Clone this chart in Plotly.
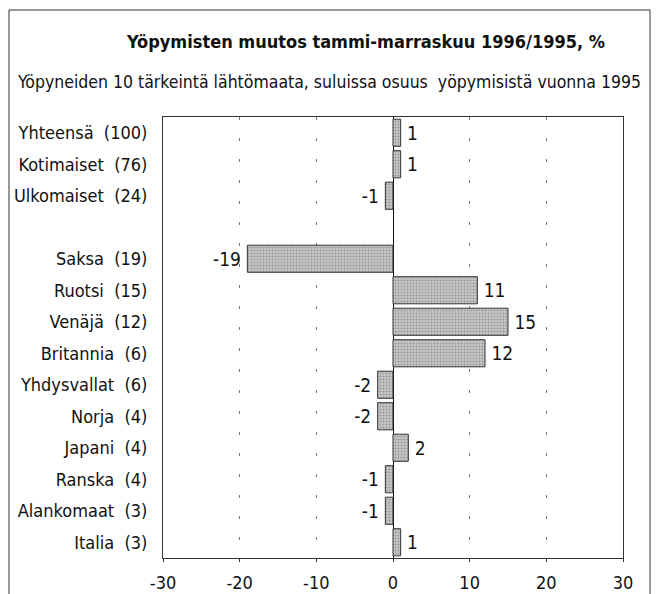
import plotly.graph_objects as go

# ---- data ----
names = ["Yhteensä", "Kotimaiset", "Ulkomaiset", "",
         "Saksa", "Ruotsi", "Venäjä", "Britannia", "Yhdysvallat",
         "Norja", "Japani", "Ranska", "Alankomaat", "Italia"]
shares = ["(100)", "(76)", "(24)", "",
          "(19)", "(15)", "(12)", "(6)", "(6)",
          "(4)", "(4)", "(4)", "(3)", "(3)"]
values = [1, 1, -1, None, -19, 11, 15, 12, -2, -2, 2, -1, -1, 1]
x_ticks = [-30, -20, -10, 0, 10, 20, 30]
x_ticktext = ["-30", "-20", "-10", "0", "10", "20", "30"]

title = "Yöpymisten muutos tammi-marraskuu 1996/1995, %"
subtitle = "Yöpyneiden 10 tärkeintä lähtömaata, suluissa osuus  yöpymisistä vuonna 1995"

# ---- layout geometry (target pixels; page body adds an 8px offset) ----
W, H = 662, 594
OFF = 8
L, R, T, B = 163, 623, 117, 558
FONT = "DejaVu Sans Condensed, Liberation Sans Narrow, Arial Narrow, sans-serif"

def px_x(p):
    return (p - L) / (R - L)

def px_y(p):
    return (B - p) / (B - T)

cats = [f"c{i}" for i in range(len(names))]
ticktext = [(n + "\u00a0\u00a0" + s) if n else "" for n, s in zip(names, shares)]
labels = [("" if v is None else "\u2009" + str(v)) if (v or 0) >= 0 else str(v) + "\u2009"
          for v in values]

fig = go.Figure(go.Bar(
    x=values, y=cats, orientation="h",
    marker=dict(color="#b4b4b4",
                line=dict(color="#333333", width=1),
                pattern=dict(shape=".", fgcolor="#6a6a6a", bgcolor="#c8c8c8",
                             size=3, solidity=0.4)),
    text=labels, textposition="outside", cliponaxis=False,
    textfont=dict(family=FONT, size=19, color="#111111"),
))

fig.update_layout(
    width=W, height=H,
    margin=dict(l=L - OFF, r=W - (R - OFF), t=T - OFF, b=H - (B - OFF), autoexpand=False),
    paper_bgcolor="white", plot_bgcolor="white",
    bargap=0.14, showlegend=False,
    font=dict(family=FONT, size=18, color="#111111"),
    title=dict(text="<b>" + title + "</b>", x=(366 - OFF) / W, xanchor="center",
               y=1 - (42 - OFF) / H, yanchor="middle",
               font=dict(family=FONT, size=18, color="#111111")),
)

fig.update_xaxes(range=[-30, 30], tickvals=x_ticks, ticktext=x_ticktext,
                 showgrid=True, gridcolor="#777777", griddash="3px,18px", gridwidth=1,
                 zeroline=True, zerolinecolor="#111111", zerolinewidth=1,
                 showline=True, linecolor="#333333", linewidth=1, mirror=True,
                 ticks="outside", ticklen=3, tickcolor="#333333", automargin=False,
                 ticklabelstandoff=5,
                 tickfont=dict(family=FONT, size=18, color="#111111"))
fig.update_yaxes(categoryorder="array", categoryarray=cats, autorange="reversed",
                 tickvals=cats, ticktext=ticktext, showgrid=False, automargin=False,
                 showline=True, linecolor="#333333", linewidth=1, mirror=True,
                 ticks="", ticklabelstandoff=11,
                 tickfont=dict(family=FONT, size=18, color="#111111"))

fig.add_annotation(text=subtitle, xref="paper", yref="paper",
                   x=px_x(329), y=px_y(82), xanchor="center", yanchor="middle",
                   showarrow=False, font=dict(family=FONT, size=17.5, color="#111111"))

# outer frame
fig.add_shape(type="rect", xref="paper", yref="paper",
              x0=px_x(9), x1=px_x(650), y0=px_y(610), y1=px_y(10),
              line=dict(color="#333333", width=1), layer="below")

fig.write_html("out.html")
